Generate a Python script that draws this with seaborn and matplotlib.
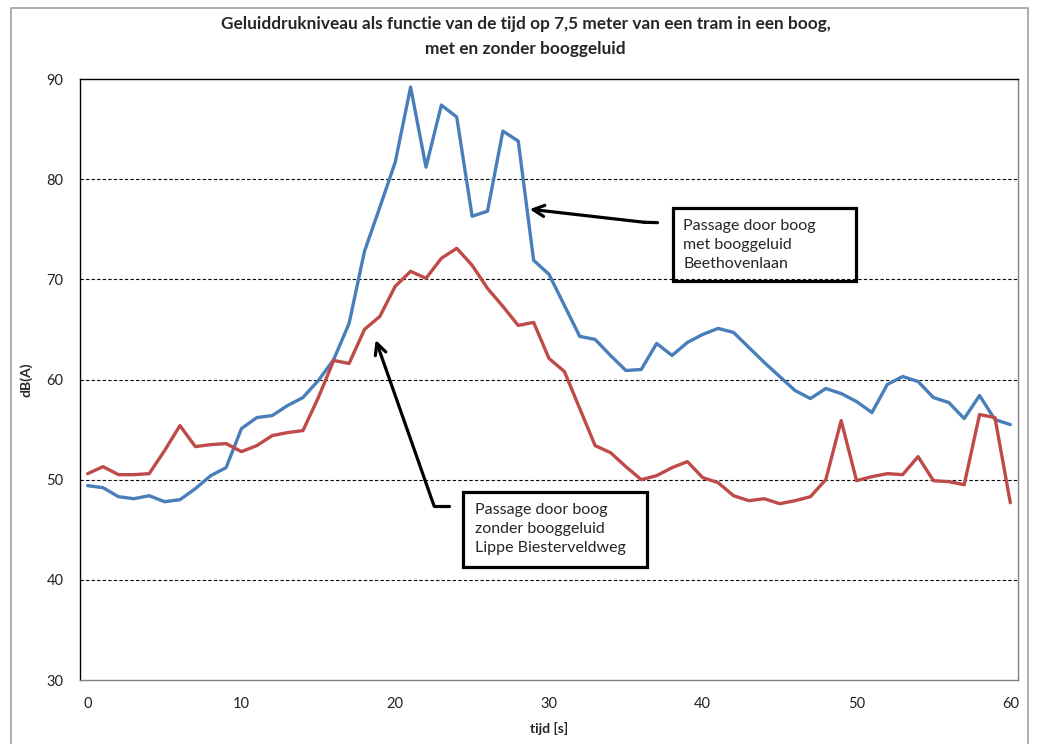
import seaborn as sns
import matplotlib.pyplot as plt
import matplotlib.patches as patches
import pandas as pd
import numpy as np

tijd = list(range(0, 61))

beethovenlaan = [49.4, 49.2, 48.3, 48.1, 48.4, 47.8, 48.0, 49.1, 50.4, 51.2,
                 55.1, 56.2, 56.4, 57.4, 58.2, 59.9, 62.0, 65.6, 72.8, 77.2,
                 81.7, 89.2, 81.2, 87.4, 86.2, 76.3, 76.8, 84.8, 83.8, 71.9,
                 70.5, 67.4, 64.3, 64.0, 62.4, 60.9, 61.0, 63.6, 62.4, 63.7,
                 64.5, 65.1, 64.7, 63.2, 61.7, 60.3, 58.9, 58.1, 59.1, 58.6,
                 57.8, 56.7, 59.5, 60.3, 59.8, 58.2, 57.7, 56.1, 58.4, 56.0,
                 55.5]

lippe_biesterveldweg = [50.6, 51.3, 50.5, 50.5, 50.6, 52.9, 55.4, 53.3, 53.5, 53.6,
                        52.8, 53.4, 54.4, 54.7, 54.9, 58.2, 61.9, 61.6, 65.0, 66.3,
                        69.3, 70.8, 70.1, 72.1, 73.1, 71.4, 69.1, 67.3, 65.4, 65.7,
                        62.1, 60.8, 57.1, 53.4, 52.7, 51.3, 50.0, 50.4, 51.2, 51.8,
                        50.2, 49.7, 48.4, 47.9, 48.1, 47.6, 47.9, 48.3, 50.0, 55.9,
                        49.9, 50.3, 50.6, 50.5, 52.3, 49.9, 49.8, 49.5, 56.5, 56.2,
                        47.7]

y_ticks = [30, 40, 50, 60, 70, 80, 90]
x_ticks = [0, 10, 20, 30, 40, 50, 60]

df = pd.DataFrame({
    "tijd": tijd * 2,
    "dB": beethovenlaan + lippe_biesterveldweg,
    "reeks": ["met booggeluid"] * len(tijd) + ["zonder booggeluid"] * len(tijd),
})

sns.set_style("white")
plt.rcParams['font.family'] = ['Lato', 'DejaVu Sans']

fig = plt.figure(figsize=(10.37, 7.44), dpi=100)
ax = fig.add_axes([80 / 1037, 1 - 680 / 744, 938 / 1037, 601 / 744])

sns.lineplot(data=df, x="tijd", y="dB", hue="reeks",
             palette=["#4A7EBB", "#BE4B48"], linewidth=2.4,
             legend=False, ax=ax)

ax.set_xlim(-0.5, 60.5)
ax.set_ylim(30, 90)
ax.set_xticks(x_ticks)
ax.set_yticks(y_ticks)
ax.tick_params(axis="both", length=0, labelsize=10.5, colors="#222222")
ax.tick_params(axis="y", pad=12)
ax.tick_params(axis="x", pad=12)

# dashed horizontal gridlines like the Excel chart
for v in y_ticks[1:-1]:
    ax.axhline(v, color="black", linestyle=(0, (3, 2)), linewidth=0.8, zorder=0)

for side in ["left", "top"]:
    ax.spines[side].set_color("black")
for side in ["right", "bottom"]:
    ax.spines[side].set_color("#808080")
for s in ax.spines.values():
    s.set_linewidth(1.0)

ax.set_xlabel("tijd [s]", fontsize=10, fontweight="bold", labelpad=8)
ax.set_ylabel("dB(A)", fontsize=10, fontweight="bold", labelpad=10)

fig.suptitle("Geluiddrukniveau als functie van de tijd op 7,5 meter van een tram in een boog,\n"
             "met en zonder booggeluid",
             x=0.507, y=0.979, fontsize=12.4, fontweight="bold", linespacing=1.7)

# annotation boxes
box_kw = dict(fill=False, edgecolor="black", linewidth=2.3, zorder=5)
ax.add_patch(patches.Rectangle((38.05, 69.87), 11.92, 7.23, **box_kw))
ax.text(38.73, 73.4, "Passage door boog\nmet booggeluid\nBeethovenlaan",
        fontsize=11.5, va="center", ha="left", linespacing=1.45, zorder=6)

ax.add_patch(patches.Rectangle((24.43, 41.33), 11.96, 7.42, **box_kw))
ax.text(25.17, 45.1, "Passage door boog\nzonder booggeluid\nLippe Biesterveldweg",
        fontsize=11.5, va="center", ha="left", linespacing=1.45, zorder=6)

# arrows (short horizontal stub, then the arrow to the curve)
arrow_kw = dict(arrowstyle="->,head_length=0.8,head_width=0.4", color="black",
                lw=2.3, shrinkA=0, shrinkB=0)
ax.plot([37.06, 36.17], [75.66, 75.7], color="black", lw=2.3, solid_capstyle="round")
ax.annotate("", xy=(28.74, 77.0), xytext=(36.17, 75.7), arrowprops=arrow_kw)
ax.plot([23.5, 22.52], [47.4, 47.4], color="black", lw=2.3, solid_capstyle="round")
ax.annotate("", xy=(18.73, 63.95), xytext=(22.52, 47.4), arrowprops=arrow_kw)

# light outer chart border
fig.patches.append(patches.Rectangle((11 / 1037, -0.02), 1017 / 1037, 1.0 - 8 / 744 + 0.02,
                                     transform=fig.transFigure, fill=False,
                                     edgecolor="#A0A0A0", linewidth=1.2))

fig.savefig("out.png", dpi=100)
